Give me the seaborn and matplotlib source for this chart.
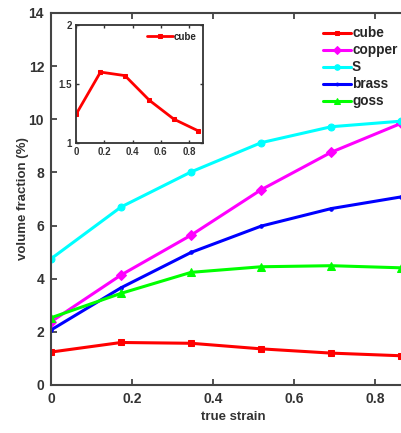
import numpy as np
import pandas as pd
import matplotlib
matplotlib.use("Agg")
import matplotlib.pyplot as plt
import seaborn as sns

strain = [0.0, 0.173, 0.346, 0.519, 0.692, 0.865]
cube = [1.24, 1.60, 1.57, 1.36, 1.20, 1.10]
copper = [2.38, 4.14, 5.64, 7.35, 8.76, 9.85]
S = [4.75, 6.70, 8.02, 9.12, 9.72, 9.93]
brass = [2.07, 3.66, 4.99, 5.98, 6.64, 7.08]
goss = [2.53, 3.45, 4.24, 4.45, 4.49, 4.41]

names = ["cube", "copper", "S", "brass", "goss"]
series = [cube, copper, S, brass, goss]
colors = ["#ff0000", "#ff00ff", "#00ffff", "#0000ff", "#00ff00"]
markers = ["s", "D", "o", ".", "^"]
msizes = [4, 5, 5, 5, 6]

x_ticks = [0, 0.2, 0.4, 0.6, 0.8]
y_ticks = [0, 2, 4, 6, 8, 10, 12, 14]
inset_yticks = [1, 1.5, 2]

sns.set_theme(style="ticks")
plt.rcParams["font.family"] = ["Liberation Sans", "DejaVu Sans"]
plt.rcParams["font.weight"] = "bold"
plt.rcParams["axes.labelweight"] = "bold"

df = pd.DataFrame({
    "strain": np.tile(strain, len(names)),
    "value": np.concatenate(series),
    "texture": np.repeat(names, len(strain)),
})

fig = plt.figure(figsize=(4.01, 4.33), dpi=100)
W, H = 401, 433
ax = fig.add_axes([51 / W, 1 - 385 / H, (415.5 - 51) / W, (385 - 13) / H])

for name, col, mk, ms in zip(names, colors, markers, msizes):
    sub = df[df["texture"] == name]
    sns.lineplot(data=sub, x="strain", y="value", ax=ax, color=col, marker=mk,
                 markersize=ms, markeredgecolor=col, linewidth=2.2, label=name,
                 estimator=None, sort=False)

ax.set_xlim(0, 0.9)
ax.set_ylim(0, 14)
ax.set_xticks(x_ticks)
ax.set_xticklabels(["0", "0.2", "0.4", "0.6", "0.8"])
ax.set_yticks(y_ticks)
ax.set_xlabel("true strain", fontsize=9.5, fontweight="bold", color="#333333", labelpad=4)
ax.set_ylabel("volume fraction (%)", fontsize=9.5, fontweight="bold", color="#333333", labelpad=0)
ax.tick_params(direction="in", top=True, right=True, length=4, width=1.2,
               labelsize=10, colors="#333333", pad=5)
for lab in ax.get_xticklabels() + ax.get_yticklabels():
    lab.set_fontweight("bold")
for sp in ax.spines.values():
    sp.set_visible(True)
    sp.set_linewidth(1.5)
    sp.set_color("#444444")

leg = ax.legend(loc="upper left", bbox_to_anchor=((318 - 51) / (415.5 - 51), 1 - (21 - 13) / 372),
                frameon=False, fontsize=9.8, handlelength=2.0, handletextpad=0.1,
                labelspacing=0.22, borderaxespad=0, markerscale=0.8)
for t in leg.get_texts():
    t.set_fontweight("bold")

# inset
axi = fig.add_axes([76 / W, 1 - 142.7 / H, (203.3 - 76) / W, (142.7 - 25) / H])
sns.lineplot(x=strain, y=cube, ax=axi, color="#ff0000", marker="s", markersize=2.5,
             markeredgecolor="#ff0000", linewidth=2.0, label="cube")
axi.set_xlim(0, 0.9)
axi.set_ylim(1, 2)
axi.set_xticks(x_ticks)
axi.set_xticklabels(["0", "0.2", "0.4", "0.6", "0.8"])
axi.set_yticks(inset_yticks)
axi.set_yticklabels(["1", "1.5", "2"])
axi.tick_params(direction="in", top=True, right=True, length=2.5, width=1,
                labelsize=7, colors="#333333", pad=3)
for lab in axi.get_xticklabels() + axi.get_yticklabels():
    lab.set_fontweight("bold")
for sp in axi.spines.values():
    sp.set_linewidth(1.3)
    sp.set_color("#333333")
lgi = axi.legend(loc="upper right", frameon=False, fontsize=7, handlelength=2.6,
                 handletextpad=0.1, borderaxespad=0.3)
for t in lgi.get_texts():
    t.set_fontweight("bold")

fig.savefig("out.png", dpi=100)
